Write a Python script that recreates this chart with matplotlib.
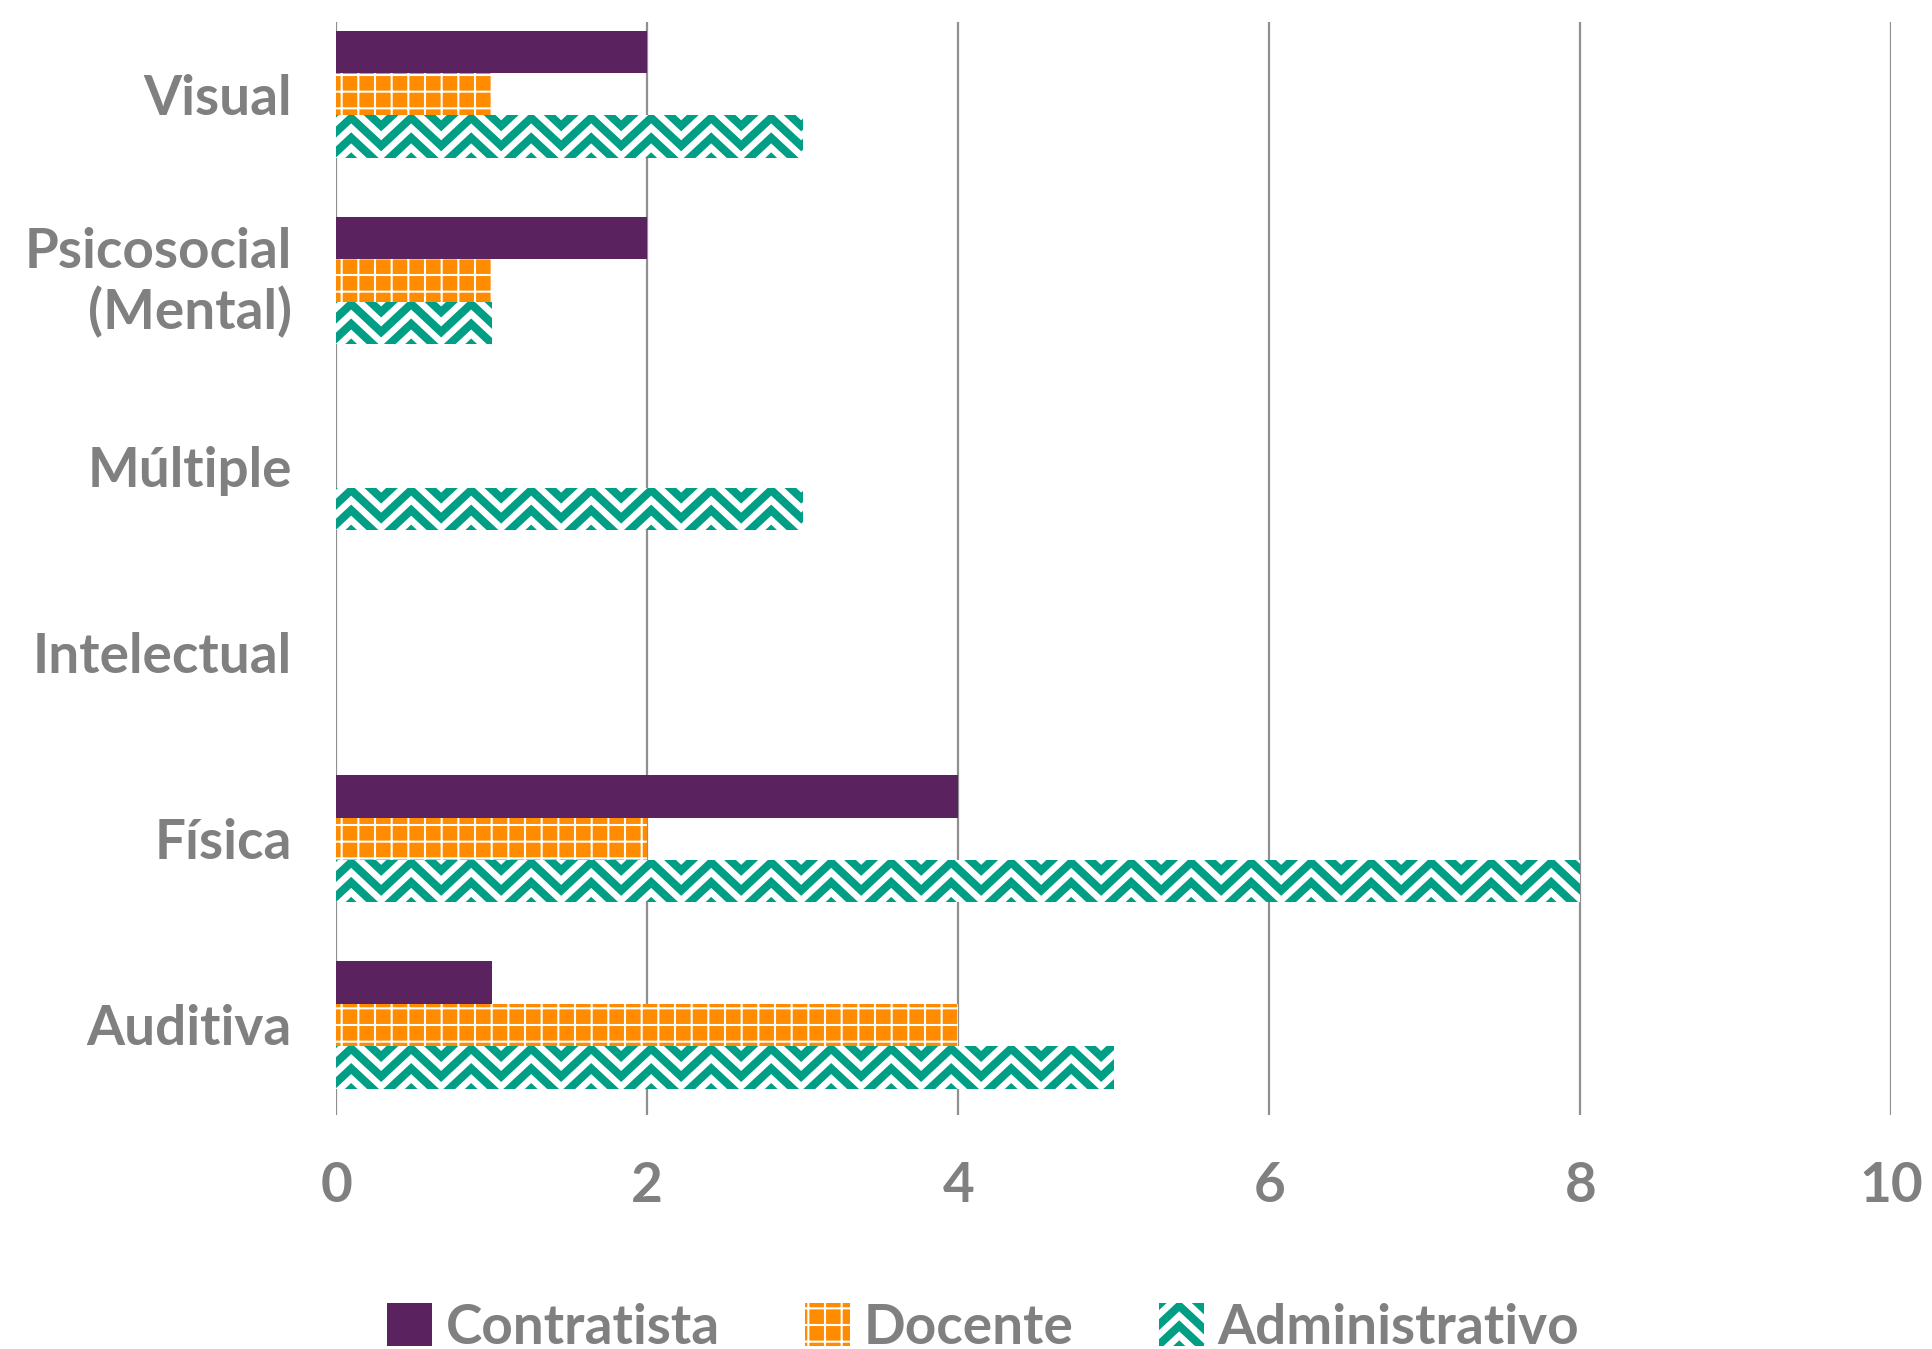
import matplotlib
matplotlib.use('Agg')
import matplotlib.pyplot as plt
import matplotlib.transforms as mtransforms
import numpy as np
from matplotlib.patches import Rectangle
from matplotlib.lines import Line2D
from matplotlib.legend_handler import HandlerBase

# Datos
categorias = ['Auditiva', 'Física', 'Intelectual', 'Múltiple', 'Psicosocial\n(Mental)', 'Visual']
contratista = [1, 4, 0, 0, 2, 2]
docente = [4, 2, 0, 0, 1, 1]
administrativo = [5, 8, 0, 3, 1, 3]
series = ['Contratista', 'Docente', 'Administrativo']
xticks = [0, 2, 4, 6, 8, 10]

MORADO = '#5A2360'
NARANJA = '#FF8C00'
VERDE = '#009E84'
GRIS = '#808080'

plt.rcParams['font.family'] = ['Lato', 'DejaVu Sans']
plt.rcParams['font.weight'] = 'bold'
plt.rcParams['hatch.linewidth'] = 1.5

DPI = 100
fig = plt.figure(figsize=(19.32, 13.49), dpi=DPI)
ax = fig.add_axes([0.174, 0.1735, 0.805, 0.8105])

y = np.arange(len(categorias))
h = 0.228

ax.barh(y + h, contratista, height=h, color=MORADO, linewidth=0, label=series[0])
ax.barh(y, docente, height=h, color=NARANJA, edgecolor='white', linewidth=0,
        hatch='+', label=series[1])
adm = ax.barh(y - h, administrativo, height=h, color='white', linewidth=0,
              label=series[2])

ax.set_xlim(0, 10)
ax.set_ylim(-0.484, 5.39)

# pixeles por unidad para dibujar el zigzag
pos = ax.get_position()
fw, fh = fig.get_size_inches() * DPI
sx = pos.width * fw / 10.0
sy = pos.height * fh / (5.39 + 0.484)

PER = 60.0   # periodo horizontal en px
AMP = 28.0   # altura del zigzag en px
GAP = 20.0   # separacion vertical entre lineas en px
LW = 5.8


def zigzag(x0, x1, y0, y1, per, amp, gap):
    n = int(np.ceil((x1 - x0) / (per / 2))) + 3
    xs = x0 + np.arange(n) * per / 2
    base = np.where(np.arange(n) % 2 == 0, 0.0, amp)
    out = []
    yy = y0 - amp - gap
    while yy < y1 + gap:
        out.append((xs, base + yy))
        yy += gap
    return out


for rect, val in zip(adm.patches, administrativo):
    if val == 0:
        continue
    x0, y0 = rect.get_x(), rect.get_y()
    for xs, ys in zigzag(x0 - PER / sx / 4, x0 + rect.get_width(), y0,
                         y0 + rect.get_height(), PER / sx, AMP / sy, GAP / sy):
        ln, = ax.plot(xs, ys, color=VERDE, lw=LW, solid_joinstyle='miter')
        ln.set_clip_path(rect)


class ZigzagHandler(HandlerBase):
    def create_artists(self, legend, orig_handle, xdescent, ydescent,
                       width, height, fontsize, trans):
        r = Rectangle((-xdescent, -ydescent), width, height, facecolor='white',
                      edgecolor='none', transform=trans)
        arts = [r]
        k = 72.0 / DPI
        for xs, ys in zigzag(-xdescent - 7, -xdescent + width, -ydescent,
                             -ydescent + height, PER * k, AMP * k, GAP * k):
            ln = Line2D(xs, ys, color=VERDE, lw=LW, transform=trans,
                        solid_joinstyle='miter')
            ln.set_clip_path(r)
            arts.append(ln)
        return arts


ax.set_yticks(y)
ax.set_yticklabels(categorias, fontsize=39.5, color=GRIS, linespacing=1.2)
ax.set_xticks(xticks)
ax.set_xticklabels([str(t) for t in xticks], fontsize=39.5, color=GRIS)
ax.tick_params(axis='y', length=0, pad=32)
ax.tick_params(axis='x', length=0, pad=33)

# subir un poco la etiqueta de dos lineas
for lab in ax.get_yticklabels():
    if '\n' in lab.get_text():
        lab.set_transform(lab.get_transform() +
                          mtransforms.ScaledTranslation(0, 0.07, fig.dpi_scale_trans))

ax.grid(axis='x', color='#8f8f8f', linewidth=1.6)
ax.set_axisbelow(True)
for s in ax.spines.values():
    s.set_visible(False)

handles, labels = ax.get_legend_handles_labels()
fig.legend(handles, labels, loc='lower center', bbox_to_anchor=(0.509, -0.027),
           ncol=3, frameon=False, fontsize=39.5, labelcolor=GRIS,
           handlelength=0.82, handleheight=0.82, handletextpad=0.25,
           columnspacing=1.55, borderaxespad=0.2,
           handler_map={adm: ZigzagHandler()})

fig.savefig('out.png', dpi=DPI)
